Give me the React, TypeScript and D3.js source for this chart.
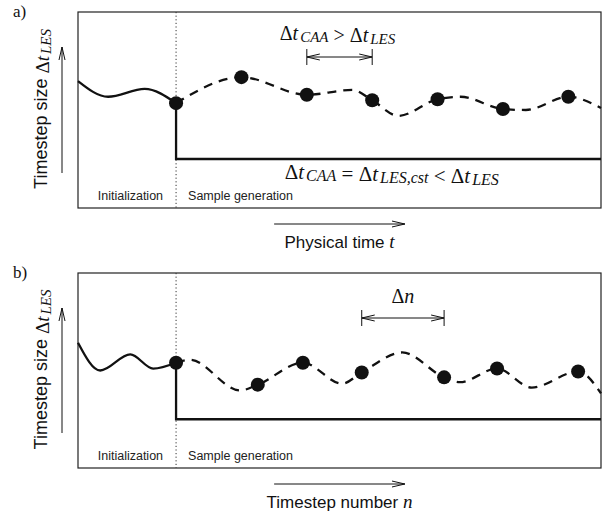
import React from "react";
import * as d3 from "d3";

// schematic units: x counts sample intervals (box spans 8), y is timestep size (box spans 4)
const X_DOMAIN: [number, number] = [0, 8];
const Y_DOMAIN: [number, number] = [0, 4];
const initEnd = 1.5; // end of the initialization phase
const cstLevel = 1.0; // constant CAA timestep
const axisArrow = [3, 5]; // extent of the arrow under each box

// a) over physical time
const aInitX = [0, 0.46, 1.02, 1.5];
const aInitY = [2.59, 2.27, 2.43, 2.14];
const aRunX = [1.5, 2.5, 3.5, 4.2, 4.5, 4.9, 5.5, 5.85, 6.5, 6.85, 7.5, 8];
const aRunY = [2.14, 2.67, 2.31, 2.41, 2.2, 1.88, 2.22, 2.27, 2.02, 2.0, 2.27, 2.04];
const aSamples = [0, 1, 2, 4, 6, 8, 10]; // indices into aRun that are stored samples
const aSpan = [2, 3]; // samples marked by the interval arrow

// b) over timestep number
const bInitX = [0, 0.34, 0.8, 1.15, 1.5];
const bInitY = [2.57, 2.0, 2.33, 2.04, 2.16];
const bRunX = [1.5, 1.71, 2.48, 2.75, 3.44, 4.04, 4.34, 4.96, 5.6, 5.84, 6.41, 6.94, 7.65, 8];
const bRunY = [2.16, 2.22, 1.59, 1.71, 2.16, 1.73, 1.96, 2.37, 1.86, 1.76, 2.04, 1.65, 1.98, 1.53];
const bSamples = [0, 3, 4, 6, 8, 10, 12];
const bSpan = [3, 4];

const W = 608;
const H = 517;
const LEFT = 78;
const RIGHT = 601;
const INK = "#111";
const SERIF = "'Liberation Serif', 'Times New Roman', serif";
const SANS = "'Liberation Sans', Arial, Helvetica, sans-serif";

type Panel = {
  letter: string;
  top: number;
  bottom: number;
  initX: number[];
  initY: number[];
  runX: number[];
  runY: number[];
  samples: number[];
  span: number[];
  xLabel: string;
  xVar: string;
  spanLabel: "dt" | "dn";
  cstLabel: boolean;
};

const panels: Panel[] = [
  {
    letter: "a)", top: 12, bottom: 208,
    initX: aInitX, initY: aInitY, runX: aRunX, runY: aRunY,
    samples: aSamples, span: aSpan,
    xLabel: "Physical time ", xVar: "t", spanLabel: "dt", cstLabel: true,
  },
  {
    letter: "b)", top: 273, bottom: 468,
    initX: bInitX, initY: bInitY, runX: bRunX, runY: bRunY,
    samples: bSamples, span: bSpan,
    xLabel: "Timestep number ", xVar: "n", spanLabel: "dn", cstLabel: false,
  },
];

function Dt({ sub, size = 20, subSize = 15 }: { sub: string; size?: number; subSize?: number }) {
  return (
    <>
      <tspan fontSize={size} fontStyle="normal">Δ</tspan>
      <tspan fontSize={size} fontStyle="italic">t</tspan>
      <tspan fontSize={subSize} fontStyle="italic" dy={2} dx={2}>{sub}</tspan>
      <tspan fontSize={size} dy={-2}>{""}</tspan>
    </>
  );
}

function PanelView({ p }: { p: Panel }) {
  const x = d3.scaleLinear().domain(X_DOMAIN).range([LEFT, RIGHT]);
  const y = d3.scaleLinear().domain(Y_DOMAIN).range([p.bottom, p.top]);
  const smooth = d3
    .line<[number, number]>()
    .x((d) => x(d[0]))
    .y((d) => y(d[1]))
    .curve(d3.curveMonotoneX);
  const straight = d3
    .line<[number, number]>()
    .x((d) => x(d[0]))
    .y((d) => y(d[1]));

  const init = p.initX.map((v, i) => [v, p.initY[i]] as [number, number]);
  const run = p.runX.map((v, i) => [v, p.runY[i]] as [number, number]);
  const cst: [number, number][] = [
    [initEnd, p.runY[0]],
    [initEnd, cstLevel],
    [X_DOMAIN[1], cstLevel],
  ];
  const pts = p.samples.map((i) => run[i]);
  const s0 = x(pts[p.span[0]][0]);
  const s1 = x(pts[p.span[1]][0]);
  const arrowY = p.top + 45;
  const midY = (p.top + p.bottom) / 2 - 1;
  const axY = p.bottom + 16;

  return (
    <g>
      <text x={13} y={p.top + 5} fontFamily={SERIF} fontSize={17} fill={INK}>
        {p.letter}
      </text>

      {/* y label + arrow */}
      <text
        transform={`translate(47,${midY}) rotate(-90)`}
        textAnchor="middle"
        fontFamily={SANS}
        fontSize={18}
        fill={INK}
      >
        {"Timestep size "}
        <tspan fontFamily={SERIF} dy={2}>
          <Dt sub="LES" size={19} subSize={15} />
        </tspan>
      </text>
      <line
        x1={62} x2={62} y1={p.bottom - 35} y2={p.top + 35}
        stroke={INK} strokeWidth={1} markerEnd="url(#head)"
      />

      {/* box */}
      <rect
        x={LEFT} y={p.top} width={RIGHT - LEFT} height={p.bottom - p.top}
        fill="none" stroke="#222" strokeWidth={1.2}
      />
      <line
        x1={x(initEnd)} x2={x(initEnd)} y1={p.top} y2={p.bottom}
        stroke="#333" strokeWidth={1} strokeDasharray="1.2,2.4"
      />

      <text
        x={x(initEnd) - 13} y={p.bottom - 8} textAnchor="end"
        fontFamily={SANS} fontSize={12.5} fill="#222"
      >
        Initialization
      </text>
      <text
        x={x(initEnd) + 12} y={p.bottom - 8}
        fontFamily={SANS} fontSize={12.5} fill="#222"
      >
        Sample generation
      </text>

      {/* curves */}
      <path d={smooth(init) ?? ""} fill="none" stroke={INK} strokeWidth={2.3} />
      <path
        d={smooth(run) ?? ""} fill="none" stroke={INK} strokeWidth={2.3}
        strokeDasharray="9,7"
      />
      <path d={straight(cst) ?? ""} fill="none" stroke={INK} strokeWidth={2.3} />
      {pts.map((d, i) => (
        <circle key={i} cx={x(d[0])} cy={y(d[1])} r={7} fill={INK} />
      ))}

      {/* sample interval */}
      <line x1={s0} x2={s1} y1={arrowY} y2={arrowY} stroke={INK} strokeWidth={1}
        markerStart="url(#head)" markerEnd="url(#head)" />
      <line x1={s0} x2={s0} y1={arrowY - 8} y2={arrowY + 8} stroke={INK} strokeWidth={1} />
      <line x1={s1} x2={s1} y1={arrowY - 8} y2={arrowY + 8} stroke={INK} strokeWidth={1} />
      {p.spanLabel === "dt" ? (
        <text x={(s0 + s1) / 2 - 2} y={arrowY - 17} textAnchor="middle" fontFamily={SERIF} fill={INK}>
          <Dt sub="CAA" />
          <tspan fontSize={20}>{" > "}</tspan>
          <Dt sub="LES" />
        </text>
      ) : (
        <text x={(s0 + s1) / 2} y={arrowY - 15} textAnchor="middle" fontFamily={SERIF} fill={INK}>
          <tspan fontSize={20}>Δ</tspan>
          <tspan fontSize={20} fontStyle="italic">n</tspan>
        </text>
      )}

      {p.cstLabel && (
        <text x={x(4.8)} y={y(cstLevel) + 20} textAnchor="middle" fontFamily={SERIF} fill={INK}>
          <Dt sub="CAA" size={21} subSize={16} />
          <tspan fontSize={21}>{" = "}</tspan>
          <Dt sub="LES,cst" size={21} subSize={16} />
          <tspan fontSize={21}>{" < "}</tspan>
          <Dt sub="LES" size={21} subSize={16} />
        </text>
      )}

      {/* x axis arrow + label */}
      <line
        x1={x(axisArrow[0])} x2={x(axisArrow[1])} y1={axY} y2={axY}
        stroke={INK} strokeWidth={1} markerEnd="url(#head)"
      />
      <text
        x={x((axisArrow[0] + axisArrow[1]) / 2)} y={p.bottom + 40} textAnchor="middle"
        fontFamily={SANS} fontSize={17} fill={INK}
      >
        {p.xLabel}
        <tspan fontFamily={SERIF} fontStyle="italic" fontSize={19}>{p.xVar}</tspan>
      </text>
    </g>
  );
}

export default function App() {
  return (
    <svg
      width={W}
      height={H}
      viewBox={`0 0 ${W} ${H}`}
      style={{ position: "absolute", left: 0, top: 0, background: "#fff" }}
    >
      <defs>
        <marker
          id="head" viewBox="0 0 13 8" refX={13} refY={4}
          markerWidth={13} markerHeight={8} markerUnits="userSpaceOnUse"
          orient="auto-start-reverse"
        >
          <path d="M0,1 L13,4 L0,7" fill="none" stroke={INK} strokeWidth={1} />
        </marker>
      </defs>
      <rect width={W} height={H} fill="#fff" />
      {panels.map((p) => (
        <PanelView key={p.letter} p={p} />
      ))}
    </svg>
  );
}
